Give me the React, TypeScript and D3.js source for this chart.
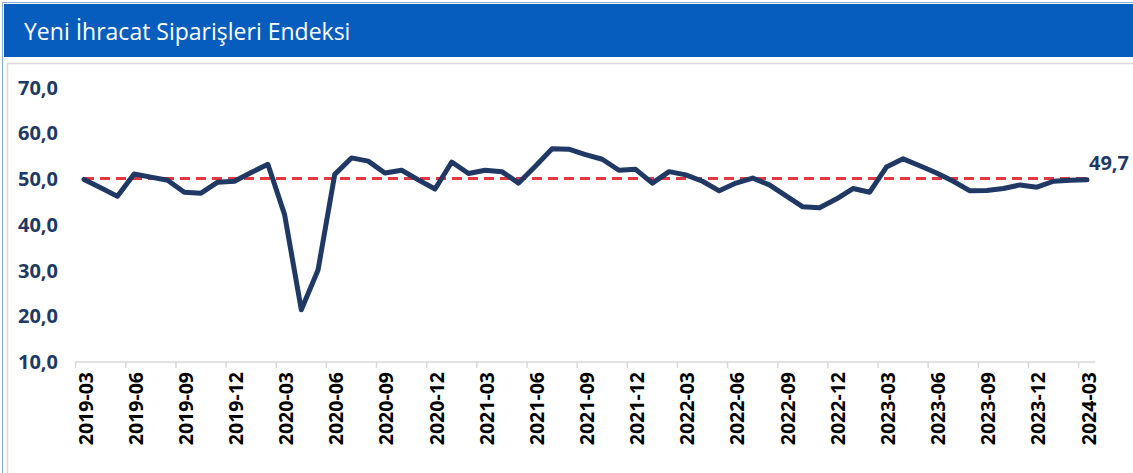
import React from "react";
import * as d3 from "d3";

const title = "Yeni İhracat Siparişleri Endeksi";

const months = [
  "2019-03","2019-04","2019-05","2019-06","2019-07","2019-08","2019-09","2019-10","2019-11","2019-12",
  "2020-01","2020-02","2020-03","2020-04","2020-05","2020-06","2020-07","2020-08","2020-09","2020-10","2020-11","2020-12",
  "2021-01","2021-02","2021-03","2021-04","2021-05","2021-06","2021-07","2021-08","2021-09","2021-10","2021-11","2021-12",
  "2022-01","2022-02","2022-03","2022-04","2022-05","2022-06","2022-07","2022-08","2022-09","2022-10","2022-11","2022-12",
  "2023-01","2023-02","2023-03","2023-04","2023-05","2023-06","2023-07","2023-08","2023-09","2023-10","2023-11","2023-12",
  "2024-01","2024-02","2024-03",
];

const values = [
  49.8, 48.0, 46.1, 51.0, 50.3, 49.6, 47.0, 46.8, 49.2, 49.4,
  51.3, 53.1, 42.1, 21.3, 30.0, 50.9, 54.5, 53.8, 51.2, 51.8, 49.7, 47.7,
  53.6, 51.1, 51.8, 51.5, 49.0, 52.7, 56.5, 56.4, 55.2, 54.2, 51.8, 52.0,
  49.0, 51.5, 50.8, 49.4, 47.3, 49.0, 50.1, 48.6, 46.2, 43.8, 43.6, 45.5,
  47.8, 47.0, 52.5, 54.3, 52.8, 51.2, 49.4, 47.3, 47.4, 47.8, 48.6, 48.1,
  49.4, 49.6, 49.7,
];

const tickLabels = [
  "2019-03","2019-06","2019-09","2019-12","2020-03","2020-06","2020-09","2020-12",
  "2021-03","2021-06","2021-09","2021-12","2022-03","2022-06","2022-09","2022-12",
  "2023-03","2023-06","2023-09","2023-12","2024-03",
];

const yTicks = [10, 20, 30, 40, 50, 60, 70];
const threshold = 50;
const lastLabel = "49,7";

const W = 1133;
const H = 473;

export default function App() {
  const x = d3.scalePoint<string>().domain(months).range([84, 1087]);
  const step = x.step();
  const y = d3.scaleLinear().domain([10, 70]).range([361.5, 87]);

  const line = d3
    .line<number>()
    .x((_, i) => x(months[i]) as number)
    .y((d) => y(d));

  const fmt = (v: number) => v.toFixed(1).replace(".", ",");
  const x0 = (x(months[0]) as number) - step / 2;
  const x1 = (x(months[months.length - 1]) as number) + step / 2;
  const lastX = x(months[months.length - 1]) as number;
  const lastY = y(values[values.length - 1]);

  return (
    <svg
      width={W}
      height={H}
      style={{ position: "absolute", left: 0, top: 0, background: "#fff" }}
    >
      <rect x={2.5} y={2.5} width={W} height={H} fill="none" stroke="#8eaadb" strokeWidth={1} />
      <rect x={4} y={4} width={W - 4} height={53} fill="#065dbd" />
      <text
        x={24}
        y={40}
        fill="#ffffff"
        fontFamily="'Open Sans', sans-serif"
        fontSize={23}
      >
        {title}
      </text>
      <rect x={7.5} y={63.5} width={W} height={H} fill="#fff" stroke="#d9d9d9" strokeWidth={1.5} />

      {yTicks.map((t) => (
        <text
          key={t}
          x={58}
          y={y(t)}
          textAnchor="end"
          dominantBaseline="central"
          fill="#1f3864"
          fontFamily="'Open Sans', sans-serif"
          fontWeight={700}
          fontSize={20}
        >
          {fmt(t)}
        </text>
      ))}

      <line x1={x0} x2={x1} y1={362} y2={362} stroke="#d9d9d9" strokeWidth={1.5} />
      {tickLabels.map((m) => {
        const cx = x(m) as number;
        return (
          <g key={m}>
            <line x1={cx - step / 2} x2={cx - step / 2} y1={362} y2={368} stroke="#d9d9d9" strokeWidth={1.5} />
            <text
              transform={`translate(${cx + 1},372) rotate(-90)`}
              textAnchor="end"
              dominantBaseline="central"
              fill="#000"
              fontFamily="'Open Sans', sans-serif"
              fontWeight={700}
              fontSize={19.5}
            >
              {m}
            </text>
          </g>
        );
      })}

      <line
        x1={x(months[0]) as number}
        x2={lastX}
        y1={y(threshold)}
        y2={y(threshold)}
        stroke="#e0393e"
        strokeWidth={2.8}
        strokeDasharray="10,6"
      />

      <path
        d={line(values) || ""}
        fill="none"
        stroke="#1f3864"
        strokeWidth={5}
        strokeLinejoin="round"
        strokeLinecap="round"
      />

      <text
        x={lastX + 2}
        y={lastY - 10}
        fill="#1f3864"
        fontFamily="'Open Sans', sans-serif"
        fontWeight={700}
        fontSize={20}
      >
        {lastLabel}
      </text>
    </svg>
  );
}
